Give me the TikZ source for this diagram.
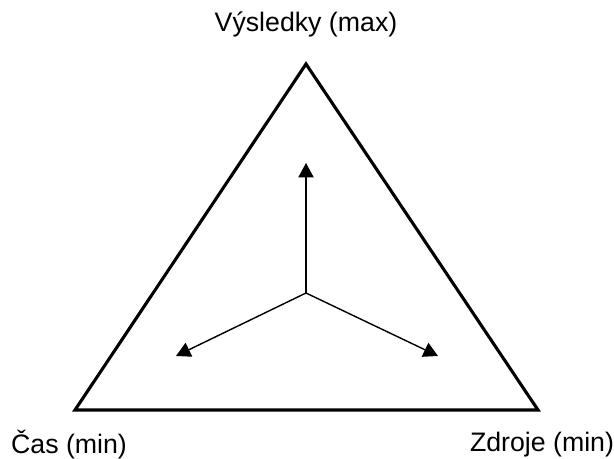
\documentclass[tikz,border=0pt]{standalone}
\usepackage{fontspec}
\setmainfont{Liberation Sans}
\usetikzlibrary{arrows.meta, positioning}

\begin{document}
\begin{tikzpicture}[
        x=0.025cm, y=-0.025cm,
        >={Triangle[length=3.6mm, width=3.8mm]},
        label/.style={font=\fontsize{19}{22}\selectfont, inner sep=0pt},
        edge/.style={line width=2.2pt, line join=miter},
        axis/.style={->, line width=1pt}
    ]
    \useasboundingbox (0,0) rectangle (614,459);

    % Triangle corners
    \coordinate (top) at (306,64);
    \coordinate (left) at (75,410);
    \coordinate (right) at (538,410);
    \draw[edge] (top) -- (left) -- (right) -- cycle;

    % Centre and arrow ends
    \coordinate (centre) at (306,293);
    \coordinate (up) at (306,163);
    \coordinate (dl) at (176,356);
    \coordinate (dr) at (438,356);

    \draw[axis] (centre) -- (up);
    \draw[axis] (centre) -- (dl);
    \draw[axis] (centre) -- (dr);

    % Corner labels
    \node[label] (vysledky) at (306,24) {Výsledky (max)};
    \node[label] (cas) at (69,445) {Čas (min)};
    \node[label] (zdroje) at (542,445) {Zdroje (min)};
\end{tikzpicture}
\end{document}
